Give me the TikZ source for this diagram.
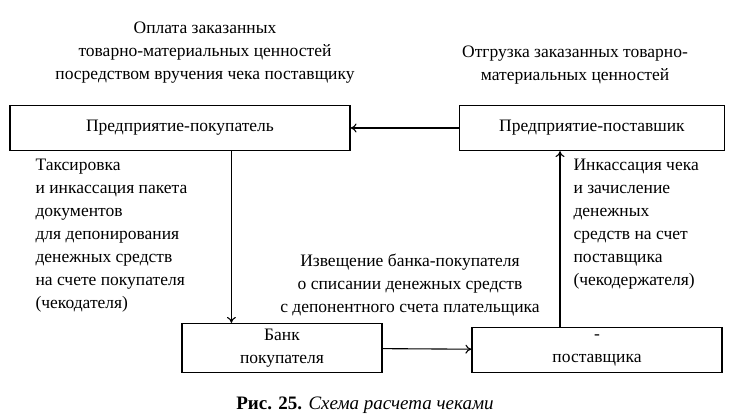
\documentclass[tikz,border=0pt]{standalone}
\usepackage{fontspec}
\setmainfont{Liberation Serif}
\usetikzlibrary{positioning,arrows.meta}
\begin{document}
\begin{tikzpicture}[x=1pt,y=-1pt,
    box/.style={draw, rectangle, line width=1.2pt, inner sep=0pt},
    note/.style={font=\fontsize{17.5}{23}\selectfont, inner sep=0pt},
    every path/.style={line width=1.1pt},
    >={To[length=6pt,width=9pt]}]
    \useasboundingbox (0,0) rectangle (730,419);
    \node[box, minimum width=340, minimum height=45, note] (buyer) at (180,128) {Предприятие-покупатель};
    \node[box, minimum width=265, minimum height=45, note] (seller) at (592,128) {Предприятие-поставшик};
    \node[box, minimum width=200, minimum height=49, note, align=center] (bankb) at (282,348) {Банк\\покупателя};
    \node[box, minimum width=250, minimum height=45, note, align=center] (banks) at (597,350) {-\\поставщика};

    \node[note, align=center] (paytxt) at (205,53) {Оплата заказанных\\товарно-материальных ценностей\\посредством вручения чека поставщику};
    \node[note, align=center] (shiptxt) at (575,65) {Отгрузка заказанных товарно-\\материальных ценностей};
    \node[note, align=left, anchor=north west] (taxtxt) at (35,158) {Таксировка\\и инкассация пакета\\документов\\для депонирования\\денежных средств\\на счете покупателя\\(чекодателя)};
    \node[note, align=left, anchor=north west] (inctxt) at (573,158) {Инкассация чека\\и зачисление\\денежных\\средств на счет\\поставщика\\(чекодержателя)};
    \node[note, align=center] (notetxt) at (410,285) {Извещение банка-покупателя\\о списании денежных средств\\с депонентного счета плательщика};
    \node[font=\fontsize{19}{22}\selectfont, inner sep=0pt] (caption) at (365,405) {\textbf{Рис. 25.} \textit{Схема расчета чеками}};

    \draw[->] (seller) -- (buyer);
    \draw[->] (buyer.south -| bankb.north west) ++(50,0) coordinate (a) -- (a |- bankb.north);
    \draw[->] (bankb) -- (banks);
    \draw[->] (banks.north -| 560,0) coordinate (b) -- (b |- seller.south);
\end{tikzpicture}
\end{document}
